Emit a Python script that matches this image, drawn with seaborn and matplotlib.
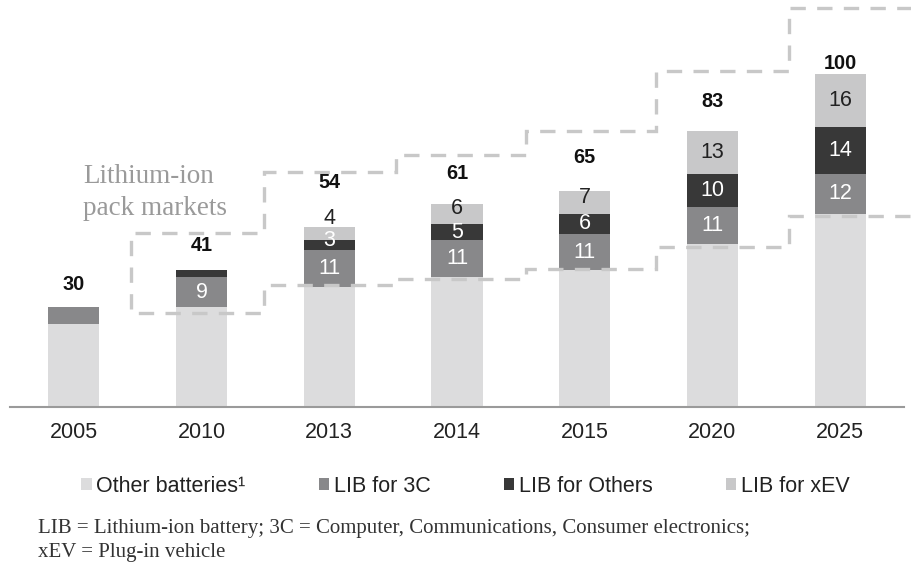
import numpy as np
import pandas as pd
import matplotlib
matplotlib.use("Agg")
import matplotlib.pyplot as plt
from matplotlib.patches import Patch
import seaborn as sns

# ---- data -------------------------------------------------------------
years = ["2005", "2010", "2013", "2014", "2015", "2020", "2025"]
other_batteries = [25, 30, 36, 39, 41, 49, 58]
lib_3c = [5, 9, 11, 11, 11, 11, 12]
lib_others = [0, 2, 3, 5, 6, 10, 14]
lib_xev = [0, 0, 4, 6, 7, 13, 16]
series_names = ["Other batteries\u00b9", "LIB for 3C", "LIB for Others", "LIB for xEV"]

# ---- styling ----------------------------------------------------------
colors = ["#dcdcdd", "#88888a", "#383838", "#c8c8c9"]
label_colors = [None, "white", "white", "#222222"]
total_offsets = [16.5, 18, 32, 22, 24, 21, 7.5]          # points above bar top
labelled_from = 1                                          # first year with segment labels
# lithium-ion pack outline (category-axis steps and level pads)
outline_steps = [0.45, 1.49, 2.52, 3.54, 4.56, 5.60, 6.70]
outline_pad_top = [11.3, 16.6, 14.7, 17.9, 17.9, 19.8]
outline_pad_bottom = [-1.8, 0.6, -0.6, 0.4, -1.0, -0.6]

sns.set_theme(style="white")
plt.rcParams["font.family"] = ["Liberation Sans", "DejaVu Sans"]

fig = plt.figure(figsize=(9.12, 5.64), dpi=100)
ax = fig.add_axes([10 / 912, 157 / 564, 894 / 912, 407 / 564])

layers = np.array([other_batteries, lib_3c, lib_others, lib_xev], dtype=float)
cum = np.cumsum(layers, axis=0)
totals = cum[-1]

df = pd.DataFrame({"year": years})
for k in range(4):
    df[f"cum{k}"] = cum[k]

# stacked bars: draw cumulative heights from the top layer down
for k in reversed(range(4)):
    sns.barplot(data=df, x="year", y=f"cum{k}", order=years, color=colors[k],
                saturation=1, width=0.4, linewidth=0, edgecolor="none", ax=ax,
                zorder=2)

ax.set_xlim(-0.5, 6.5)
ax.set_ylim(0, 122.2)
ax.set_xlabel("")
ax.set_ylabel("")
ax.set_yticks([])
for side in ["top", "left", "right"]:
    ax.spines[side].set_visible(False)
ax.spines["bottom"].set_color("#9a9a9a")
ax.spines["bottom"].set_linewidth(1.5)
ax.tick_params(axis="x", length=0, pad=10.5, labelsize=15.5, labelcolor="#222222")

# segment value labels
for k in range(1, 4):
    for i, v in enumerate(layers[k]):
        if i < labelled_from or v < 3:
            continue
        if k == 3 and v < 5:
            # too thin to hold its label: put it just above the bar
            ax.annotate(f"{int(v)}", (i, totals[i]), xytext=(0, -1),
                        textcoords="offset points", ha="center", va="bottom",
                        fontsize=15.5, color="#222222", zorder=6)
        else:
            lift = 3.5 if (v < 10 and k == 3) or v < 4 else 0
            ax.annotate(f"{int(v)}", (i, cum[k - 1][i] + v / 2),
                        xytext=(0, lift), textcoords="offset points",
                        ha="center", va="center", fontsize=15.5,
                        color=label_colors[k], zorder=6)

# totals
for i, t in enumerate(totals):
    ax.annotate(f"{int(t)}", (i, t), xytext=(0, total_offsets[i]),
                textcoords="offset points", ha="center", va="center",
                fontsize=14.3, fontweight="bold", color="#111111", zorder=6)

# dashed outline around the lithium-ion pack market segments
xs, ys = [], []
for i in range(6, 0, -1):
    level = totals[i] + outline_pad_top[i - 1]
    xs += [outline_steps[i], outline_steps[i - 1]]
    ys += [level, level]
for i in range(1, 7):
    level = other_batteries[i] + outline_pad_bottom[i - 1]
    xs += [outline_steps[i - 1], outline_steps[i]]
    ys += [level, level]
ax.plot(xs, ys, color="#c8c8c8", lw=2.4, ls=(0, (4.6, 3.4)), clip_on=False,
        zorder=5, dash_capstyle="butt", dash_joinstyle="miter")

fig.text(83 / 912, 1 - 183 / 564, "Lithium-ion", fontsize=19.5,
         family=["Liberation Serif"], color="#9a9a9a", va="baseline", ha="left")
fig.text(83 / 912, 1 - 215 / 564, "pack markets", fontsize=19.5,
         family=["Liberation Serif"], color="#9a9a9a", va="baseline", ha="left")

# legend
handles = [Patch(facecolor=c, edgecolor="none") for c in colors]
fig.legend(handles, series_names, loc="center left",
           bbox_to_anchor=(81 / 912, 1 - 486 / 564), ncol=4, frameon=False,
           fontsize=15.5, handlelength=0.5, handleheight=0.5, handletextpad=0.2,
           columnspacing=3.4, borderpad=0, borderaxespad=0,
           labelcolor="#222222")

# footnote
fig.text(38 / 912, 1 - 533 / 564,
         "LIB = Lithium-ion battery; 3C = Computer, Communications, Consumer electronics;",
         fontsize=15, family=["Liberation Serif"], color="#333333",
         va="baseline", ha="left")
fig.text(38 / 912, 1 - 557 / 564, "xEV = Plug-in vehicle", fontsize=15,
         family=["Liberation Serif"], color="#333333", va="baseline", ha="left")

fig.savefig("out.png", dpi=100)
